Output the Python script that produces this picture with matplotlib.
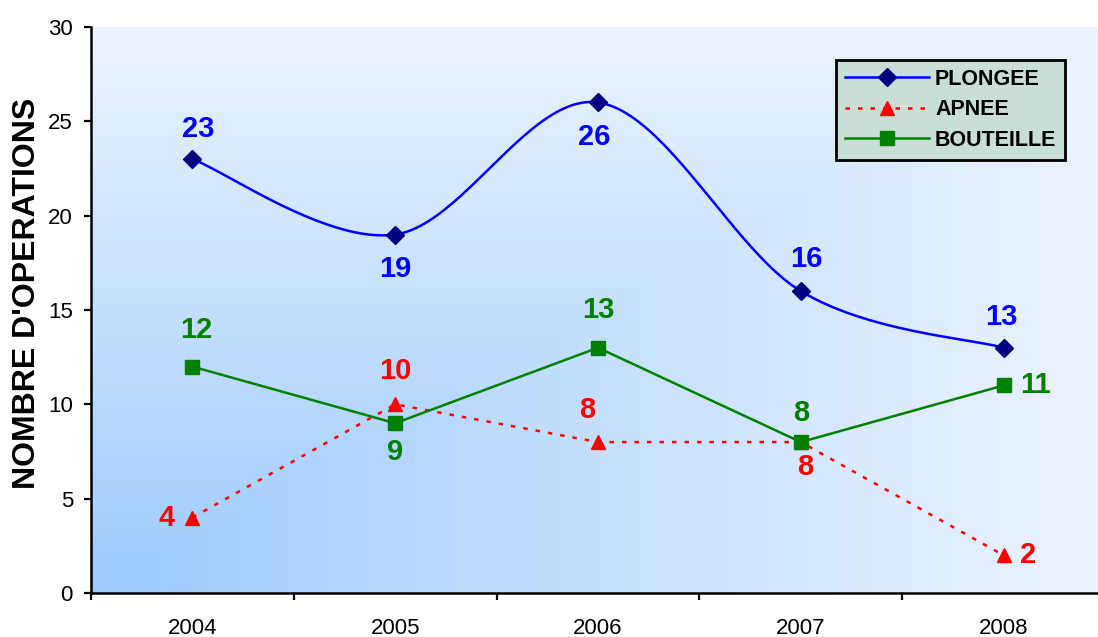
import numpy as np
import matplotlib

matplotlib.use("Agg")

from matplotlib import pyplot as plt
from matplotlib.colors import LinearSegmentedColormap

plt.rcParams["font.family"] = ["Liberation Sans", "DejaVu Sans"]

years = ["2004", "2005", "2006", "2007", "2008"]
plongee = [23, 19, 26, 16, 13]
apnee = [4, 10, 8, 8, 2]
bouteille = [12, 9, 13, 8, 11]

# (dx, dy, ha) offsets in points for each value label
plongee_pos = [(4, 22, "center"), (0, -25, "center"), (-3, -25, "center"), (4, 23, "center"), (-2, 22, "center")]
apnee_pos = [(-13, 0, "right"), (0, 24, "center"), (-8, 23, "center"), (3, -18, "center"), (12, 0, "left")]
bouteille_pos = [(3, 26, "center"), (0, -21, "center"), (0, 27, "center"), (0, 21, "center"), (12, 0, "left")]


def smooth_curve(xs, ys, n=50):
    # bezier smoothing, control points at 1/6 of neighbour chord
    pts = np.column_stack([xs, ys]).astype(float)
    last = len(pts) - 1
    segs = []
    for i in range(last):
        p0 = pts[max(i - 1, 0)]
        p1 = pts[i]
        p2 = pts[i + 1]
        p3 = pts[min(i + 2, last)]
        c1 = p1 + (p2 - p0) / 6
        c2 = p2 - (p3 - p1) / 6
        t = np.linspace(0, 1, n)[:, None]
        segs.append((1 - t) ** 3 * p1 + 3 * (1 - t) ** 2 * t * c1 + 3 * (1 - t) * t ** 2 * c2 + t ** 3 * p2)
    out = np.vstack(segs)
    return out[:, 0], out[:, 1]


fig = plt.figure(figsize=(10.98, 6.37), dpi=100)
ax = fig.add_axes([91 / 1098, 44 / 637, 1014 / 1098, 566 / 637])
ax.set_facecolor("white")

# corner gradient background
u = np.linspace(0, 1, 400)
uu, vv = np.meshgrid(u, u)
grad = np.maximum(uu, vv)
cmap = LinearSegmentedColormap.from_list("bg", ["#9CCBFD", "#EDF4FE"])
ax.imshow(grad, cmap=cmap, origin="lower", extent=[0, 1, 0, 1], transform=ax.transAxes,
          aspect="auto", zorder=0, interpolation="bilinear")

x = np.arange(len(years))
lw = 1.8

sx, sy = smooth_curve(x, plongee)
ax.plot(sx, sy, color="#0000FF", linewidth=lw, zorder=3)
ax.plot(x, plongee, linestyle="none", marker="D", markersize=9, color="#000080", zorder=4)
ax.plot([], [], color="#0000FF", linewidth=lw, marker="D", markersize=9,
        markerfacecolor="#000080", markeredgecolor="#000080", label="PLONGEE")

ax.plot(x, apnee, color="#FF0000", linewidth=lw, linestyle=(0, (1.8, 3.2)),
        marker="^", markersize=10.5, zorder=5, label="APNEE")
ax.plot(x, bouteille, color="#008000", linewidth=lw, marker="s", markersize=10,
        zorder=6, label="BOUTEILLE")

for series, pos, color in [(plongee, plongee_pos, "#0000FF"),
                           (apnee, apnee_pos, "#FF0000"),
                           (bouteille, bouteille_pos, "#008000")]:
    for xi, val, (dx, dy, ha) in zip(x, series, pos):
        ax.annotate(str(val), (xi, val), xytext=(dx, dy), textcoords="offset points",
                    ha=ha, va="center", fontsize=21, fontweight="bold", color=color, zorder=7)

ax.set_xlim(-0.5, 4.5)
ax.set_ylim(0, 30)
ax.set_yticks(range(0, 31, 5))
ax.set_xticks(np.arange(-0.5, 5, 1))
ax.set_xticklabels([])
ax.set_xticks(x, minor=True)
ax.set_xticklabels(years, minor=True)

ax.tick_params(axis="y", direction="out", length=5, width=1.6, pad=8, labelsize=16)
ax.tick_params(axis="x", which="major", direction="out", length=5, width=1.6)
ax.tick_params(axis="x", which="minor", length=0, pad=18, labelsize=16)

for side in ["top", "right"]:
    ax.spines[side].set_visible(False)
for side in ["left", "bottom"]:
    ax.spines[side].set_linewidth(1.8)
    ax.spines[side].set_zorder(8)

fig.text(27 / 1098, 1 - 293 / 637, "NOMBRE D'OPERATIONS", rotation=90, ha="center", va="center",
         fontsize=23, fontweight="bold")

leg = ax.legend(loc="upper right", bbox_to_anchor=((1065 - 91) / 1014, (593 - 60) / 566),
                borderaxespad=0, fancybox=False, framealpha=1, facecolor="#C9DFD6",
                edgecolor="black", prop={"weight": "bold", "size": 15.5},
                handlelength=3.9, handletextpad=0.3, labelspacing=0.45, borderpad=0.4)
leg.get_frame().set_linewidth(2.0)
leg.set_zorder(10)

fig.savefig("out.png", dpi=100)
